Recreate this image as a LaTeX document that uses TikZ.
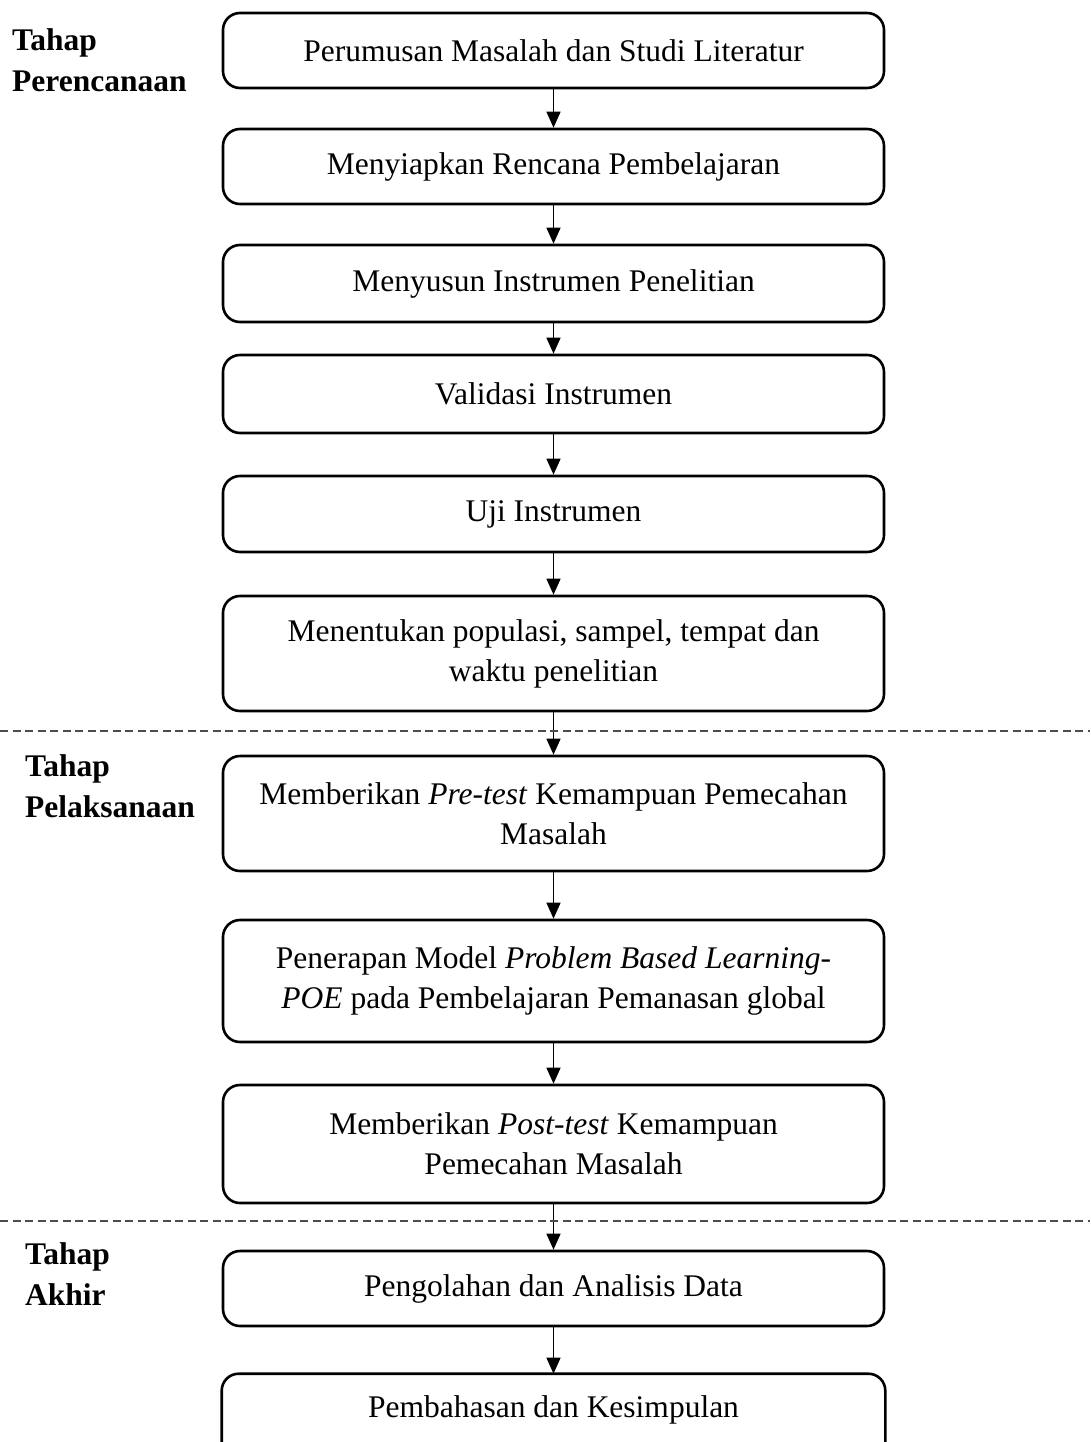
\documentclass[tikz,border=0pt]{standalone}
\usepackage{fontspec}
\setmainfont{Liberation Serif}
\usetikzlibrary{arrows.meta}
\begin{document}
\begin{tikzpicture}[x=1pt,y=-1pt,
  box/.style={draw, line width=2.6pt, rounded corners=17pt, minimum width=661pt, align=center, inner sep=0pt,
    font=\fontsize{31.5}{40}\selectfont},
  arr/.style={line width=1.3pt, -{Triangle[width=14pt,length=16pt]}},
  sep/.style={dash pattern=on 8pt off 4.5pt, line width=1.1pt, draw=black!70},
  lbl/.style={anchor=base west, align=left, inner sep=0pt, font=\fontsize{31.5}{41}\selectfont\bfseries}]
\useasboundingbox (0,0) rectangle (1090,1442);
\clip (0,0) rectangle (1090,1442);
\fill[white] (0,0) rectangle (1090,1442);

\node[box, minimum height=75pt] (b1) at (553.5,50.5) {Perumusan Masalah dan Studi Literatur};
\node[box, minimum height=75pt] (b2) at (553.5,166.5) {Menyiapkan Rencana Pembelajaran};
\node[box, minimum height=77pt] (b3) at (553.5,283.5) {Menyusun Instrumen Penelitian};
\node[box, minimum height=78pt] (b4) at (553.5,394) {Validasi Instrumen};
\node[box, minimum height=76pt] (b5) at (553.5,514) {Uji Instrumen};
\node[box, minimum height=115pt] (b6) at (553.5,653.5) {Menentukan populasi, sampel, tempat dan\\waktu penelitian};
\node[box, minimum height=115pt] (b7) at (553.5,813.5) {Memberikan \textit{Pre-test} Kemampuan Pemecahan\\Masalah};
\node[box, minimum height=122pt] (b8) at (553.5,981) {Penerapan Model \textit{Problem Based Learning-}\\\textit{POE} pada Pembelajaran Pemanasan global};
\node[box, minimum height=118pt] (b9) at (553.5,1144) {Memberikan \textit{Post-test} Kemampuan\\Pemecahan Masalah};
\node[box, minimum height=75pt] (b10) at (553.5,1288.5) {Pengolahan dan Analisis Data};
\node[box, draw=none, minimum height=70pt] (b11) at (553.5,1410) {Pembahasan dan Kesimpulan};
\draw[line width=2.6pt, rounded corners=17pt] ([yshift=-20pt]b11.south west) -- (b11.north west) -- (b11.north east) -- ([yshift=-20pt]b11.south east);

\draw[arr] (b1) -- (b2);
\draw[arr] (b2) -- (b3);
\draw[arr] (b3) -- (b4);
\draw[arr] (b4) -- (b5);
\draw[arr] (b5) -- (b6);
\draw[arr] (b6) -- (b7);
\draw[arr] (b7) -- (b8);
\draw[arr] (b8) -- (b9);
\draw[arr] (b9) -- (b10);
\draw[arr] (b10) -- (b11);

\coordinate (d1l) at (0,731);
\coordinate (d1r) at (1090,731);
\coordinate (d2l) at (0,1221);
\coordinate (d2r) at (1090,1221);
\draw[sep] (d1l) -- (d1r);
\draw[sep] (d2l) -- (d2r);

\node[lbl] (l1) at (12,92) {Tahap\\Perencanaan};
\node[lbl] (l2) at (25,817) {Tahap\\Pelaksanaan};
\node[lbl] (l3) at (25,1305) {Tahap\\Akhir};
\end{tikzpicture}
\end{document}
